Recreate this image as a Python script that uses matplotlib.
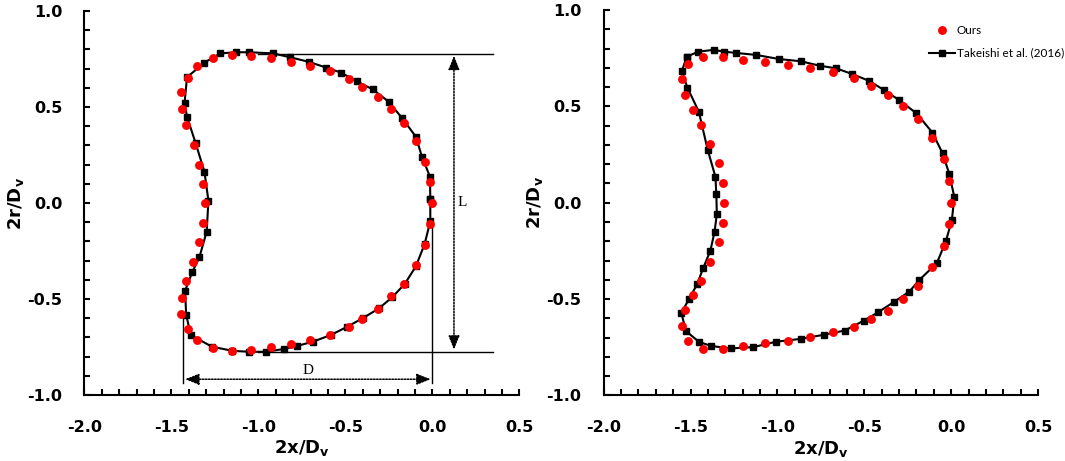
import matplotlib
matplotlib.use('Agg')
import matplotlib.pyplot as plt
from matplotlib.ticker import MultipleLocator

# ---- left panel: our result (red dots) ----
ours_left_x = [-1.260, -1.153, -1.043, -0.928, -0.815, -0.702, -0.590, -0.481, -0.402, -0.313,
               -0.237, -0.164, -0.097, -0.042, -0.014, 0.000, -0.014, -0.042, -0.097, -0.164,
               -0.237, -0.313, -0.402, -0.481, -0.590, -0.702, -0.815, -0.928, -1.043, -1.153,
               -1.260, -1.351, -1.405, -1.446, -1.438, -1.414, -1.377, -1.339, -1.316, -1.304,
               -1.316, -1.339, -1.371, -1.414, -1.438, -1.446, -1.405, -1.351]
ours_left_y = [0.754, 0.771, 0.768, 0.754, 0.735, 0.713, 0.685, 0.645, 0.602, 0.552,
               0.489, 0.416, 0.321, 0.214, 0.108, 0.000, -0.108, -0.219, -0.325, -0.420,
               -0.487, -0.553, -0.602, -0.645, -0.685, -0.713, -0.737, -0.752, -0.764, -0.770,
               -0.756, -0.713, -0.657, -0.579, -0.493, -0.406, -0.307, -0.202, -0.103, 0.000,
               0.100, 0.200, 0.302, 0.404, 0.489, 0.577, 0.652, 0.711]

# ---- left panel: Takeishi et al. (2016) (black line + squares) ----
tk_left_x = [-0.012, -0.014, -0.060, -0.095, -0.173, -0.252, -0.343, -0.436, -0.525, -0.610,
             -0.710, -0.818, -0.915, -1.052, -1.129, -1.218, -1.310, -1.410, -1.424, -1.410,
             -1.360, -1.310, -1.287, -1.297, -1.339, -1.379, -1.421, -1.415, -1.388, -1.268,
             -1.150, -1.052, -0.956, -0.852, -0.779, -0.685, -0.585, -0.490, -0.400, -0.307,
             -0.230, -0.159, -0.095, -0.045, -0.012, -0.012]
tk_left_y = [0.021, 0.137, 0.241, 0.345, 0.441, 0.528, 0.592, 0.634, 0.679, 0.705,
             0.735, 0.759, 0.779, 0.785, 0.785, 0.779, 0.731, 0.655, 0.522, 0.449,
             0.310, 0.163, 0.012, -0.149, -0.283, -0.358, -0.457, -0.583, -0.688, -0.748,
             -0.770, -0.775, -0.775, -0.760, -0.745, -0.722, -0.688, -0.645, -0.600, -0.549,
             -0.490, -0.422, -0.330, -0.215, -0.095, 0.021]

# ---- right panel: our result ----
ours_right_x = [-1.515, -1.426, -1.312, -1.199, -1.071, -0.940, -0.813, -0.682, -0.561, -0.464,
                -0.366, -0.279, -0.189, -0.108, -0.040, -0.011, -0.002, -0.011, -0.040, -0.108,
                -0.189, -0.279, -0.366, -0.464, -0.561, -0.682, -0.813, -0.940, -1.071, -1.199,
                -1.312, -1.426, -1.515, -1.548, -1.534, -1.488, -1.438, -1.386, -1.339, -1.314,
                -1.307, -1.314, -1.339, -1.386, -1.438, -1.488, -1.534, -1.548]
ours_right_y = [0.718, 0.758, 0.758, 0.742, 0.729, 0.713, 0.699, 0.677, 0.649, 0.606,
                0.559, 0.502, 0.433, 0.338, 0.226, 0.113, 0.000, -0.111, -0.222, -0.331,
                -0.430, -0.499, -0.561, -0.604, -0.646, -0.673, -0.697, -0.715, -0.729, -0.741,
                -0.758, -0.758, -0.715, -0.642, -0.559, -0.478, -0.405, -0.305, -0.205, -0.103,
                0.000, 0.105, 0.208, 0.305, 0.404, 0.481, 0.561, 0.644]

# ---- right panel: Takeishi et al. (2016) ----
tk_right_x = [-1.522, -1.455, -1.368, -1.307, -1.237, -1.123, -0.994, -0.866, -0.757, -0.661,
              -0.570, -0.472, -0.387, -0.300, -0.200, -0.108, -0.050, -0.011, 0.018, 0.004,
              -0.031, -0.083, -0.183, -0.241, -0.327, -0.420, -0.501, -0.613, -0.734, -0.863,
              -1.008, -1.139, -1.270, -1.382, -1.451, -1.527, -1.553, -1.509, -1.463, -1.427,
              -1.386, -1.362, -1.349, -1.352, -1.357, -1.402, -1.453, -1.518, -1.551, -1.522]
tk_right_y = [0.758, 0.784, 0.793, 0.784, 0.777, 0.767, 0.746, 0.734, 0.711, 0.697,
              0.668, 0.632, 0.585, 0.533, 0.464, 0.364, 0.257, 0.150, 0.029, -0.089,
              -0.201, -0.314, -0.400, -0.461, -0.513, -0.568, -0.611, -0.663, -0.685, -0.706,
              -0.721, -0.749, -0.756, -0.743, -0.722, -0.666, -0.572, -0.499, -0.424, -0.338,
              -0.248, -0.150, -0.058, 0.043, 0.134, 0.276, 0.473, 0.596, 0.682, 0.758]

# annotation geometry in the left panel (D and L dimensions)
L_top, L_bottom = 0.777, -0.774
L_x, L_label_x = 0.124, 0.172
D_left, D_right = -1.431, 0.0
D_y, D_label_y = -0.918, -0.873
guide_end = 0.35

fig = plt.figure(figsize=(10.65, 4.61), dpi=100)
ax1 = fig.add_axes([0.0792, 0.1432, 0.4085, 0.8330])
ax2 = fig.add_axes([0.5669, 0.1421, 0.4078, 0.8362])

for ax in (ax1, ax2):
    ax.set_xlim(-2.0, 0.5)
    ax.set_ylim(-1.0, 1.0)
    ax.spines['top'].set_visible(False)
    ax.spines['right'].set_visible(False)
    ax.spines['left'].set_linewidth(1.5)
    ax.spines['bottom'].set_linewidth(1.5)
    ax.xaxis.set_major_locator(MultipleLocator(0.5))
    ax.xaxis.set_minor_locator(MultipleLocator(0.1))
    ax.yaxis.set_major_locator(MultipleLocator(0.5))
    ax.yaxis.set_minor_locator(MultipleLocator(0.1))
    ax.tick_params(which='both', direction='in', length=4.2, width=1.5)
    ax.tick_params(axis='x', which='major', labelsize=11.5, pad=18)
    ax.tick_params(axis='y', which='major', labelsize=11.5, pad=16)
    for lab in ax.get_xticklabels() + ax.get_yticklabels():
        lab.set_fontweight('bold')
    ax.xaxis.set_major_formatter(plt.FuncFormatter(lambda v, p: '%.1f' % v))
    ax.yaxis.set_major_formatter(plt.FuncFormatter(lambda v, p: '%.1f' % v))
    ax.set_xlabel(r'2x/D$_{\mathbf{v}}$', fontsize=13, fontweight='bold')
    ax.set_ylabel(r'2r/D$_{\mathbf{v}}$', fontsize=13, fontweight='bold')
    ax.xaxis.set_label_coords(0.5, -0.112)
    ax.yaxis.set_label_coords(-0.135, 0.5)

# left panel
ax1.plot(tk_left_x, tk_left_y, '-s', color='black', lw=1.5, ms=4, zorder=3)
ax1.plot(ours_left_x, ours_left_y, 'o', color='red', ms=6.4, mec='none', zorder=4)

# dimension guides
ax1.plot([-1.0, guide_end], [L_top, L_top], color='black', lw=1)
ax1.plot([-1.0, guide_end], [L_bottom, L_bottom], color='black', lw=1)
ax1.plot([D_left, D_left], [-0.575, -0.937], color='black', lw=1)
ax1.plot([D_right, D_right], [-0.1, -0.937], color='black', lw=1)

arrow_kw = dict(arrowstyle='<|-|>,head_length=0.7,head_width=0.28', color='black',
                lw=1.1, ls=(0, (1, 1)), mutation_scale=12, shrinkA=0, shrinkB=0)
ax1.annotate('', xy=(D_right - 0.01, D_y), xytext=(D_left + 0.01, D_y), arrowprops=arrow_kw)
ax1.annotate('', xy=(L_x, L_bottom + 0.01), xytext=(L_x, L_top - 0.01), arrowprops=arrow_kw)
ax1.text((D_left + D_right) / 2, D_label_y, 'D', family='Liberation Serif', fontsize=11,
         ha='center', va='center')
ax1.text(L_label_x, 0.0, 'L', family='Liberation Serif', fontsize=11, ha='center', va='center')

# right panel
tk_h, = ax2.plot(tk_right_x, tk_right_y, '-s', color='black', lw=1.5, ms=4, zorder=3)
ours_h, = ax2.plot(ours_right_x, ours_right_y, 'o', color='red', ms=6.4, mec='none', zorder=4)
ax2.legend([ours_h, tk_h], ['Ours', 'Takeishi et al. (2016)'], loc='upper left',
           bbox_to_anchor=(0.748, 0.96), frameon=False, prop={'family': 'Lato', 'size': 8.5},
           handlelength=2.2, handletextpad=0.2, labelspacing=0.95, borderpad=0,
           borderaxespad=0, numpoints=1)

fig.savefig('out.png', dpi=100)
